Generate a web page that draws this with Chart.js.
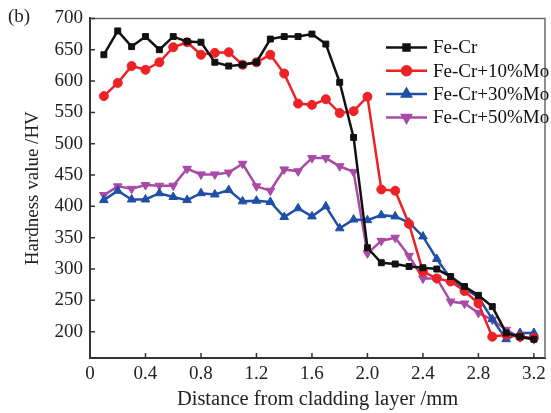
<!DOCTYPE html>
<html>
<head>
<meta charset="utf-8">
<script src="https://cdn.jsdelivr.net/npm/chart.js@4.4.0/dist/chart.umd.min.js"></script>
<style>
  body { margin: 0; background: #fff; }
  #wrap { width: 551px; height: 413px; }
</style>
</head>
<body>
<div id="wrap"><canvas id="hardChart" width="551" height="413"></canvas></div>
<script>
// distance from cladding layer (mm)
const distance = [0.1, 0.2, 0.3, 0.4, 0.5, 0.6, 0.7, 0.8, 0.9, 1.0, 1.1, 1.2, 1.3, 1.4, 1.5, 1.6,
                  1.7, 1.8, 1.9, 2.0, 2.1, 2.2, 2.3, 2.4, 2.5, 2.6, 2.7, 2.8, 2.9, 3.0, 3.1, 3.2];

// hardness values (HV)
const feCr     = [642, 680, 655, 671, 650, 671, 663, 662, 630, 624, 626, 630, 667, 671, 671, 675,
                  659, 598, 510, 334, 310, 308, 304, 302, 300, 288, 272, 258, 240, 198, 192, 188];
const feCr10Mo = [576, 597, 624, 618, 630, 654, 662, 642, 645, 646, 626, 630, 642, 612, 564, 562,
                  571, 549, 552, 575, 427, 425, 372, 296, 285, 280, 265, 245, 192, 195, 192, 190];
const feCr30Mo = [410, 425, 411, 411, 421, 415, 410, 421, 419, 426, 408, 409, 407, 383, 397, 384,
                  400, 365, 379, 378, 386, 384, 374, 352, 316, 285, 269, 255, 220, 188, 198, 198];
const feCr50Mo = [418, 432, 428, 434, 433, 433, 460, 451, 451, 454, 468, 432, 425, 459, 456, 477,
                  477, 464, 455, 325, 345, 350, 321, 285, 285, 248, 245, 230, 219, 203, 191, 188];

const seriesNames = ["Fe-Cr", "Fe-Cr+10%Mo", "Fe-Cr+30%Mo", "Fe-Cr+50%Mo"];

// axis ticks
const xTicks = [0, 0.4, 0.8, 1.2, 1.6, 2.0, 2.4, 2.8, 3.2];
const yTicks = [200, 250, 300, 350, 400, 450, 500, 550, 600, 650, 700];

const FONT = "Liberation Serif";

function toPoints(arr) {
    return arr.map((v, i) => ({ x: distance[i], y: v }));
}

function makeSet(label, arr, color, style, rot, radius) {
    return {
        label: label,
        data: toPoints(arr),
        borderColor: color,
        backgroundColor: color,
        borderWidth: 2.5,
        pointStyle: style,
        pointRotation: rot,
        pointRadius: radius,
        pointBorderWidth: 1,
        tension: 0
    };
}

const datasets = [
    makeSet(seriesNames[0], feCr, "#111111", "rect", 0, 4.2),
    makeSet(seriesNames[1], feCr10Mo, "#ec2226", "circle", 0, 4.5),
    makeSet(seriesNames[2], feCr30Mo, "#1f4fa6", "triangle", 0, 5),
    makeSet(seriesNames[3], feCr50Mo, "#a94aa6", "triangle", 180, 5)
];

// frame, inward ticks, legend and panel label
const decor = {
    id: "decor",
    afterDraw(c) {
        const ctx = c.ctx;
        const a = c.chartArea;
        const xs = c.scales.x, ys = c.scales.y;
        ctx.save();
        // top and right border
        ctx.strokeStyle = "#6a6a6a";
        ctx.lineWidth = 1.5;
        ctx.beginPath();
        ctx.moveTo(a.left, a.top);
        ctx.lineTo(a.right, a.top);
        ctx.lineTo(a.right, a.bottom);
        ctx.stroke();
        // inward ticks
        ctx.strokeStyle = "#333";
        ctx.lineWidth = 1.5;
        ctx.beginPath();
        xTicks.forEach(t => {
            const px = xs.getPixelForValue(t);
            ctx.moveTo(px, a.bottom);
            ctx.lineTo(px, a.bottom - 5);
        });
        yTicks.forEach(t => {
            const py = ys.getPixelForValue(t);
            ctx.moveTo(a.left, py);
            ctx.lineTo(a.left + 5, py);
        });
        ctx.stroke();

        // legend
        const lx = 386, ly = 47.5, step = 23.3;
        c.data.datasets.forEach((ds, i) => {
            const y = ly + i * step;
            ctx.strokeStyle = ds.borderColor;
            ctx.lineWidth = 2.5;
            ctx.beginPath();
            ctx.moveTo(lx, y);
            ctx.lineTo(lx + 41, y);
            ctx.stroke();
            Chart.helpers.drawPoint(ctx, {
                pointStyle: ds.pointStyle,
                rotation: ds.pointRotation,
                radius: ds.pointRadius,
                borderWidth: 1
            }, lx + 20.5, y);
            ctx.fillStyle = ds.borderColor;
            ctx.fill();
            ctx.fillStyle = "#111";
            ctx.font = "19px '" + FONT + "'";
            ctx.textAlign = "left";
            ctx.textBaseline = "middle";
            ctx.fillText(ds.label, 433, y + 1);
        });

        // panel label
        ctx.fillStyle = "#222";
        ctx.font = "19px '" + FONT + "'";
        ctx.textAlign = "left";
        ctx.textBaseline = "middle";
        ctx.fillText("(b)", 8, 17);
        ctx.restore();
    }
};

new Chart(document.getElementById("hardChart"), {
    type: "line",
    data: { datasets: datasets },
    options: {
        responsive: false,
        animation: false,
        devicePixelRatio: 1,
        layout: { padding: { left: 0, right: 2, top: 14, bottom: 0 } },
        plugins: {
            legend: { display: false },
            tooltip: { enabled: false }
        },
        scales: {
            x: {
                type: "linear",
                min: 0,
                max: 3.28,
                afterBuildTicks: s => { s.ticks = xTicks.map(v => ({ value: v })); },
                afterFit: s => { s.height = 55; },
                grid: { display: false, drawTicks: false },
                border: { display: true, color: "#333", width: 2 },
                ticks: {
                    padding: 5,
                    color: "#222",
                    font: { family: FONT, size: 19 },
                    maxRotation: 0,
                    autoSkip: false,
                    callback: v => v === 0 ? "0" : v.toFixed(1)
                },
                title: {
                    display: true,
                    text: "Distance from cladding layer /mm",
                    color: "#222",
                    font: { family: FONT, size: 20.5 },
                    padding: { top: 0, bottom: 1 }
                }
            },
            y: {
                min: 158,
                max: 700,
                afterBuildTicks: s => { s.ticks = yTicks.map(v => ({ value: v })); },
                afterFit: s => { s.width = 90; },
                grid: { display: false, drawTicks: false },
                border: { display: true, color: "#333", width: 2 },
                ticks: {
                    padding: 7,
                    color: "#222",
                    font: { family: FONT, size: 19 }
                },
                title: {
                    display: true,
                    text: "Hardness value /HV",
                    color: "#222",
                    font: { family: FONT, size: 19 },
                    padding: { top: 22, bottom: 0 }
                }
            }
        }
    },
    plugins: [decor]
});
</script>
</body>
</html>
